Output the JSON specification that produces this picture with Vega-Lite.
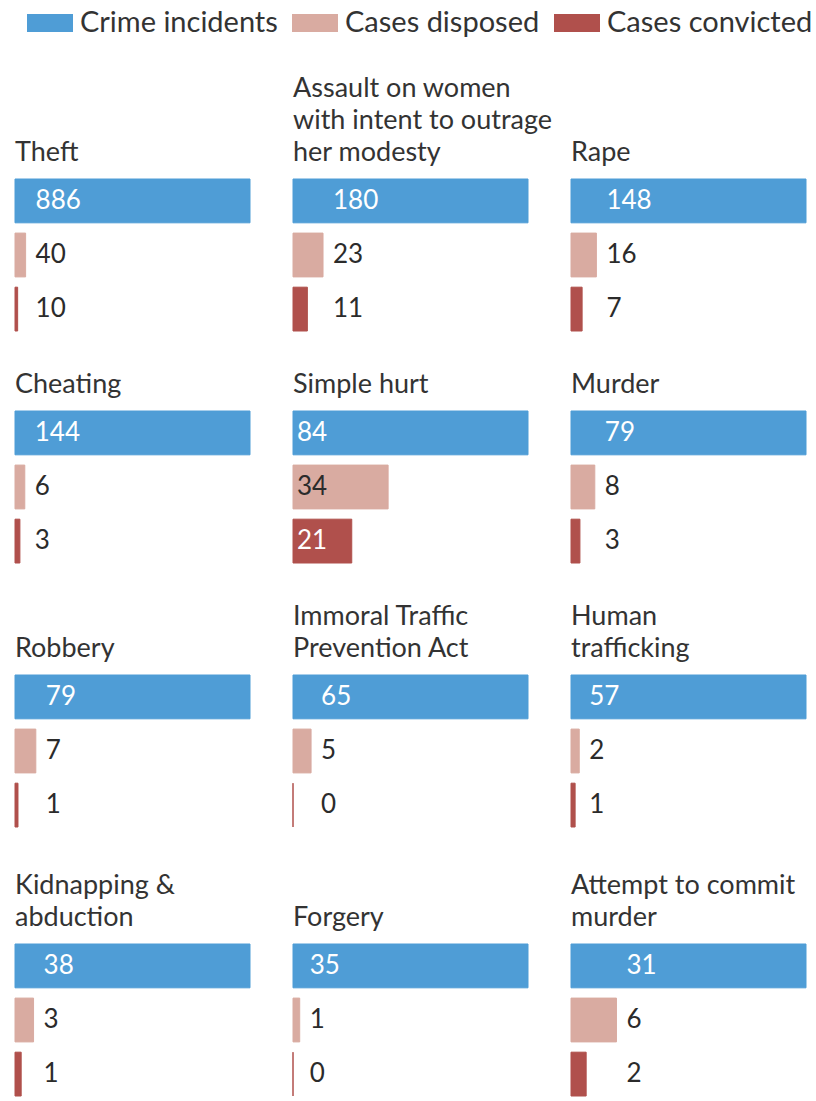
{
  "$schema": "https://vega.github.io/schema/vega-lite/v6.json",
  "padding": {"left": 14, "top": 0, "right": 5, "bottom": 0},
  "background": "white",
  "data": {"values": [
    {"crime": "Theft", "incidents": 886, "disposed": 40, "convicted": 10},
    {"crime": "Assault on women|with intent to outrage|her modesty", "incidents": 180, "disposed": 23, "convicted": 11},
    {"crime": "Rape", "incidents": 148, "disposed": 16, "convicted": 7},
    {"crime": "Cheating", "incidents": 144, "disposed": 6, "convicted": 3},
    {"crime": "Simple hurt", "incidents": 84, "disposed": 34, "convicted": 21},
    {"crime": "Murder", "incidents": 79, "disposed": 8, "convicted": 3},
    {"crime": "Robbery", "incidents": 79, "disposed": 7, "convicted": 1},
    {"crime": "Immoral Traffic|Prevention Act", "incidents": 65, "disposed": 5, "convicted": 0},
    {"crime": "Human|trafficking", "incidents": 57, "disposed": 2, "convicted": 1},
    {"crime": "Kidnapping &|abduction", "incidents": 38, "disposed": 3, "convicted": 1},
    {"crime": "Forgery", "incidents": 35, "disposed": 1, "convicted": 0},
    {"crime": "Attempt to commit|murder", "incidents": 31, "disposed": 6, "convicted": 2}
  ]},
  "transform": [{"fold": ["incidents", "disposed", "convicted"], "as": ["measure", "value"]}],
  "spacing": 44,
  "vconcat": [
    {
      "spacing": 39,
      "vconcat": [
        {
          "transform": [{"filter": {"field": "crime", "oneOf": ["Theft", "Assault on women|with intent to outrage|her modesty", "Rape"]}}],
          "facet": {"column": {"field": "crime", "type": "nominal", "title": null, "sort": ["Theft", "Assault on women|with intent to outrage|her modesty", "Rape"]}},
          "spacing": 43, "bounds": "flush",
          "resolve": {"scale": {"x": "independent"}},
          "spec": {
            "width": 235, "height": 152,
            "encoding": {"y": {"field": "measure", "type": "nominal", "sort": ["incidents", "disposed", "convicted"], "axis": null, "scale": {"paddingInner": 0.19, "paddingOuter": 0}}},
            "layer": [
              {"mark": {"type": "bar", "strokeWidth": 1},
               "encoding": {
                 "x": {"field": "value", "type": "quantitative", "axis": null, "scale": {"nice": false}},
                 "color": {"field": "measure", "type": "nominal", "scale": {"domain": ["incidents", "disposed", "convicted"], "range": ["#4f9dd6", "#d9aba1", "#b0504c"]},
                   "legend": {"title": null, "orient": "top", "direction": "horizontal",
                     "labelExpr": "datum.value == 'incidents' ? 'Crime incidents' : datum.value == 'disposed' ? 'Cases disposed' : 'Cases convicted'",
                     "labelFont": "Lato", "labelFontSize": 29, "labelColor": "#333333", "labelLimit": 300,
                     "symbolType": "M-1,-0.39H1V0.39H-1Z", "symbolSize": 2116, "symbolStrokeWidth": 0, "symbolOpacity": 1,
                     "symbolOffset": 12, "labelOffset": 7, "columnPadding": 2, "padding": 0, "offset": 37}},
                 "stroke": {"field": "measure", "type": "nominal", "scale": {"domain": ["incidents", "disposed", "convicted"], "range": ["#4f9dd6", "#d9aba1", "#b0504c"]}, "legend": null}}},
              {"transform": [{"filter": "datum.disposed / datum.incidents < 0.3"}],
               "mark": {"type": "text", "align": "left", "baseline": "middle", "dx": 10, "font": "Lato", "fontSize": 26},
               "encoding": {"x": {"field": "disposed", "type": "quantitative"}, "text": {"field": "value", "type": "quantitative"},
                 "color": {"condition": {"test": "datum.measure == 'incidents'", "value": "white"}, "value": "#2b2b2b"}}},
              {"transform": [{"filter": "datum.disposed / datum.incidents >= 0.3"}],
               "mark": {"type": "text", "align": "left", "baseline": "middle", "dx": 4, "font": "Lato", "fontSize": 26},
               "encoding": {"x": {"datum": 0, "type": "quantitative"}, "text": {"field": "value", "type": "quantitative"},
                 "color": {"condition": {"test": "datum.measure != 'disposed'", "value": "white"}, "value": "#2b2b2b"}}}
            ]
          }
        },
        {
          "transform": [{"filter": {"field": "crime", "oneOf": ["Cheating", "Simple hurt", "Murder"]}}],
          "facet": {"column": {"field": "crime", "type": "nominal", "title": null, "sort": ["Cheating", "Simple hurt", "Murder"]}},
          "spacing": 43, "bounds": "flush",
          "resolve": {"scale": {"x": "independent"}},
          "spec": {
            "width": 235, "height": 152,
            "encoding": {"y": {"field": "measure", "type": "nominal", "sort": ["incidents", "disposed", "convicted"], "axis": null, "scale": {"paddingInner": 0.19, "paddingOuter": 0}}},
            "layer": [
              {"mark": {"type": "bar", "strokeWidth": 1},
               "encoding": {
                 "x": {"field": "value", "type": "quantitative", "axis": null, "scale": {"nice": false}},
                 "color": {"field": "measure", "type": "nominal", "scale": {"domain": ["incidents", "disposed", "convicted"], "range": ["#4f9dd6", "#d9aba1", "#b0504c"]}},
                 "stroke": {"field": "measure", "type": "nominal", "scale": {"domain": ["incidents", "disposed", "convicted"], "range": ["#4f9dd6", "#d9aba1", "#b0504c"]}, "legend": null}}},
              {"transform": [{"filter": "datum.disposed / datum.incidents < 0.3"}],
               "mark": {"type": "text", "align": "left", "baseline": "middle", "dx": 10, "font": "Lato", "fontSize": 26},
               "encoding": {"x": {"field": "disposed", "type": "quantitative"}, "text": {"field": "value", "type": "quantitative"},
                 "color": {"condition": {"test": "datum.measure == 'incidents'", "value": "white"}, "value": "#2b2b2b"}}},
              {"transform": [{"filter": "datum.disposed / datum.incidents >= 0.3"}],
               "mark": {"type": "text", "align": "left", "baseline": "middle", "dx": 4, "font": "Lato", "fontSize": 26},
               "encoding": {"x": {"datum": 0, "type": "quantitative"}, "text": {"field": "value", "type": "quantitative"},
                 "color": {"condition": {"test": "datum.measure != 'disposed'", "value": "white"}, "value": "#2b2b2b"}}}
            ]
          }
        },
        {
          "transform": [{"filter": {"field": "crime", "oneOf": ["Robbery", "Immoral Traffic|Prevention Act", "Human|trafficking"]}}],
          "facet": {"column": {"field": "crime", "type": "nominal", "title": null, "sort": ["Robbery", "Immoral Traffic|Prevention Act", "Human|trafficking"]}},
          "spacing": 43, "bounds": "flush",
          "resolve": {"scale": {"x": "independent"}},
          "spec": {
            "width": 235, "height": 152,
            "encoding": {"y": {"field": "measure", "type": "nominal", "sort": ["incidents", "disposed", "convicted"], "axis": null, "scale": {"paddingInner": 0.19, "paddingOuter": 0}}},
            "layer": [
              {"mark": {"type": "bar", "strokeWidth": 1},
               "encoding": {
                 "x": {"field": "value", "type": "quantitative", "axis": null, "scale": {"nice": false}},
                 "color": {"field": "measure", "type": "nominal", "scale": {"domain": ["incidents", "disposed", "convicted"], "range": ["#4f9dd6", "#d9aba1", "#b0504c"]}},
                 "stroke": {"field": "measure", "type": "nominal", "scale": {"domain": ["incidents", "disposed", "convicted"], "range": ["#4f9dd6", "#d9aba1", "#b0504c"]}, "legend": null}}},
              {"transform": [{"filter": "datum.disposed / datum.incidents < 0.3"}],
               "mark": {"type": "text", "align": "left", "baseline": "middle", "dx": 10, "font": "Lato", "fontSize": 26},
               "encoding": {"x": {"field": "disposed", "type": "quantitative"}, "text": {"field": "value", "type": "quantitative"},
                 "color": {"condition": {"test": "datum.measure == 'incidents'", "value": "white"}, "value": "#2b2b2b"}}},
              {"transform": [{"filter": "datum.disposed / datum.incidents >= 0.3"}],
               "mark": {"type": "text", "align": "left", "baseline": "middle", "dx": 4, "font": "Lato", "fontSize": 26},
               "encoding": {"x": {"datum": 0, "type": "quantitative"}, "text": {"field": "value", "type": "quantitative"},
                 "color": {"condition": {"test": "datum.measure != 'disposed'", "value": "white"}, "value": "#2b2b2b"}}}
            ]
          }
        }
      ]
    },
    {
      "transform": [{"filter": {"field": "crime", "oneOf": ["Kidnapping &|abduction", "Forgery", "Attempt to commit|murder"]}}],
      "facet": {"column": {"field": "crime", "type": "nominal", "title": null, "sort": ["Kidnapping &|abduction", "Forgery", "Attempt to commit|murder"]}},
      "spacing": 43, "bounds": "flush",
      "resolve": {"scale": {"x": "independent"}},
      "spec": {
        "width": 235, "height": 152,
        "encoding": {"y": {"field": "measure", "type": "nominal", "sort": ["incidents", "disposed", "convicted"], "axis": null, "scale": {"paddingInner": 0.19, "paddingOuter": 0}}},
        "layer": [
          {"mark": {"type": "bar", "strokeWidth": 1},
           "encoding": {
             "x": {"field": "value", "type": "quantitative", "axis": null, "scale": {"nice": false}},
             "color": {"field": "measure", "type": "nominal", "scale": {"domain": ["incidents", "disposed", "convicted"], "range": ["#4f9dd6", "#d9aba1", "#b0504c"]}},
             "stroke": {"field": "measure", "type": "nominal", "scale": {"domain": ["incidents", "disposed", "convicted"], "range": ["#4f9dd6", "#d9aba1", "#b0504c"]}, "legend": null}}},
          {"transform": [{"filter": "datum.disposed / datum.incidents < 0.3"}],
           "mark": {"type": "text", "align": "left", "baseline": "middle", "dx": 10, "font": "Lato", "fontSize": 26},
           "encoding": {"x": {"field": "disposed", "type": "quantitative"}, "text": {"field": "value", "type": "quantitative"},
             "color": {"condition": {"test": "datum.measure == 'incidents'", "value": "white"}, "value": "#2b2b2b"}}},
          {"transform": [{"filter": "datum.disposed / datum.incidents >= 0.3"}],
           "mark": {"type": "text", "align": "left", "baseline": "middle", "dx": 4, "font": "Lato", "fontSize": 26},
           "encoding": {"x": {"datum": 0, "type": "quantitative"}, "text": {"field": "value", "type": "quantitative"},
             "color": {"condition": {"test": "datum.measure != 'disposed'", "value": "white"}, "value": "#2b2b2b"}}}
        ]
      }
    }
  ],
  "config": {
    "view": {"stroke": null},
    "header": {
      "labelExpr": "split(datum.value, '|')",
      "labelFont": "Lato", "labelFontSize": 27, "labelColor": "#333333",
      "labelAlign": "left", "labelAnchor": "start", "labelBaseline": "bottom",
      "labelLineHeight": 32, "labelPadding": -15
    }
  }
}
